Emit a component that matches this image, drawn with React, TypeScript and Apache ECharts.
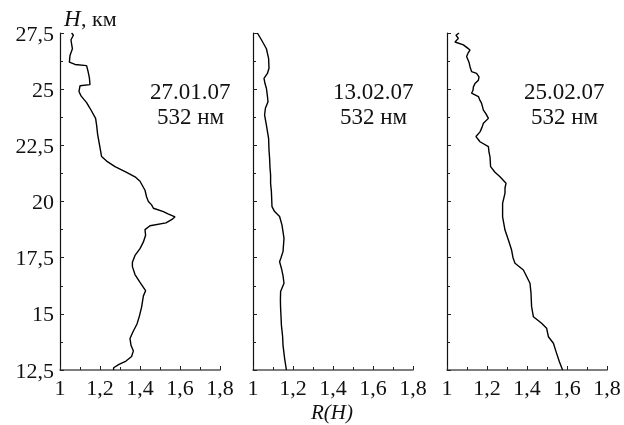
import React, { useEffect, useRef } from "react";
import * as echarts from "echarts";

// Panel 1: 27.01.07
const h1 = [27.5, 27.4, 27.2, 27.0, 26.8, 26.5, 26.2, 26.1, 26.05, 25.8, 25.5, 25.2, 25.15, 24.9, 24.7, 24.4, 24.15, 23.7, 23.4, 23.0, 22.4, 22.0, 21.8, 21.55, 21.3, 21.1, 20.9, 20.5, 20.2, 20.0, 19.85, 19.7, 19.55, 19.45, 19.32, 19.2, 19.05, 18.92, 18.75, 18.5, 18.2, 17.9, 17.6, 17.3, 17.1, 16.75, 16.4, 16.03, 15.8, 15.3, 14.9, 14.55, 14.2, 13.9, 13.6, 13.35, 13.1, 12.9, 12.75, 12.6, 12.5];
const r1 = [1.058, 1.067, 1.055, 1.058, 1.062, 1.05, 1.047, 1.075, 1.133, 1.14, 1.147, 1.15, 1.1, 1.095, 1.105, 1.133, 1.15, 1.178, 1.183, 1.188, 1.2, 1.208, 1.233, 1.275, 1.333, 1.375, 1.4, 1.425, 1.433, 1.442, 1.458, 1.467, 1.517, 1.54, 1.575, 1.56, 1.53, 1.45, 1.425, 1.428, 1.417, 1.4, 1.375, 1.362, 1.362, 1.375, 1.4, 1.428, 1.417, 1.408, 1.397, 1.385, 1.365, 1.35, 1.355, 1.367, 1.358, 1.33, 1.295, 1.268, 1.268];

// Panel 2: 13.02.07
const h2 = [27.5, 27.2, 26.8, 26.37, 25.93, 25.7, 25.48, 25.25, 25.04, 24.7, 24.44, 24.15, 23.85, 23.4, 22.81, 22.3, 21.92, 21.5, 21.18, 20.8, 20.44, 19.77, 19.55, 19.33, 18.95, 18.36, 17.77, 17.5, 17.32, 17.03, 16.7, 16.36, 15.99, 15.6, 15.25, 14.9, 14.5, 14.0, 13.61, 13.02, 12.5];
const r2 = [1.022, 1.042, 1.067, 1.078, 1.08, 1.072, 1.055, 1.06, 1.067, 1.072, 1.075, 1.062, 1.058, 1.067, 1.078, 1.08, 1.083, 1.085, 1.088, 1.088, 1.092, 1.095, 1.108, 1.133, 1.145, 1.155, 1.15, 1.14, 1.133, 1.142, 1.15, 1.155, 1.138, 1.137, 1.138, 1.14, 1.142, 1.148, 1.15, 1.158, 1.167];

// Panel 3: 25.02.07
const h3 = [27.5, 27.4, 27.26, 27.1, 26.97, 26.85, 26.74, 26.6, 26.45, 26.2, 26.0, 25.78, 25.7, 25.55, 25.4, 25.25, 25.1, 24.95, 24.82, 24.67, 24.5, 24.37, 24.07, 23.9, 23.7, 23.48, 23.3, 23.1, 22.89, 22.66, 22.44, 22.2, 21.99, 21.55, 21.3, 21.1, 20.81, 20.6, 20.37, 19.92, 19.32, 18.73, 18.29, 17.84, 17.5, 17.25, 16.95, 16.36, 15.92, 15.32, 14.87, 14.58, 14.36, 13.98, 13.69, 13.24, 12.87, 12.5];
const r3 = [1.06, 1.045, 1.057, 1.04, 1.082, 1.1, 1.115, 1.105, 1.098, 1.11, 1.115, 1.123, 1.148, 1.16, 1.157, 1.14, 1.132, 1.13, 1.123, 1.157, 1.165, 1.173, 1.182, 1.195, 1.207, 1.182, 1.175, 1.165, 1.145, 1.165, 1.207, 1.21, 1.215, 1.218, 1.24, 1.265, 1.295, 1.29, 1.29, 1.278, 1.278, 1.29, 1.307, 1.323, 1.33, 1.34, 1.382, 1.415, 1.42, 1.423, 1.432, 1.473, 1.498, 1.507, 1.532, 1.548, 1.562, 1.578];

const panelLabels = ["27.01.07", "13.02.07", "25.02.07"];
const wavelength = "532 нм";
const xTicks = [1, 1.2, 1.4, 1.6, 1.8];
const yTicks = [12.5, 15, 17.5, 20, 22.5, 25, 27.5];

const FONT = "Liberation Serif";

export default function App() {
  const ref = useRef<HTMLDivElement>(null);
  useEffect(() => {
    if (!ref.current) return;
    const chart = echarts.init(ref.current, null, { renderer: "svg" });
    const lefts = [60, 253, 447];
    const annX = [191, 374, 565];
    const fmt = (v: number) => String(v).replace(".", ",");
    const grids = lefts.map((l) => ({ left: l, top: 33, width: 160, height: 337, outerBoundsMode: "none" }));
    const xAxes = lefts.map((_, i) => ({
      type: "value",
      gridIndex: i,
      min: xTicks[0],
      max: xTicks[xTicks.length - 1],
      interval: 0.2,
      axisLine: { show: true, lineStyle: { color: "#555", width: 1.5 } },
      axisTick: { show: true, inside: true, length: 4, lineStyle: { color: "#222" } },
      minorTick: { show: true, splitNumber: 2, length: 3, lineStyle: { color: "#222" } },
      splitLine: { show: false },
      axisLabel: { show: true, margin: 6, fontFamily: FONT, fontSize: 22, color: "#111", formatter: fmt, showMinLabel: true, showMaxLabel: true },
    }));
    const yAxes = lefts.map((_, i) => ({
      type: "value",
      gridIndex: i,
      min: yTicks[0],
      max: yTicks[yTicks.length - 1],
      interval: 2.5,
      axisLine: { show: true, lineStyle: { color: "#111", width: 1.2 } },
      axisTick: { show: true, inside: true, length: 4, lineStyle: { color: "#222" } },
      minorTick: { show: true, splitNumber: 2, length: 3, lineStyle: { color: "#222" } },
      splitLine: { show: false },
      axisLabel: { show: i === 0, margin: 6, fontFamily: FONT, fontSize: 22, color: "#111", formatter: fmt, showMinLabel: true, showMaxLabel: true },
    }));
    const datasets = [
      [h1, r1],
      [h2, r2],
      [h3, r3],
    ];
    const series = datasets.map(([h, r], i) => ({
      type: "line",
      xAxisIndex: i,
      yAxisIndex: i,
      data: h.map((hv, k) => [r[k], hv]),
      showSymbol: false,
      symbol: "none",
      lineStyle: { color: "#000", width: 1.4 },
      clip: true,
    }));
    const graphic: any[] = [];
    panelLabels.forEach((lab, i) => {
      graphic.push({
        type: "text",
        left: annX[i] - 41,
        top: 80,
        style: { text: lab, font: "23px 'Liberation Serif', serif", fill: "#111" },
      });
      graphic.push({
        type: "text",
        left: annX[i] - 34,
        top: 105,
        style: { text: wavelength, font: "23px 'Liberation Serif', serif", fill: "#111" },
      });
    });
    graphic.push({
      type: "text",
      left: 64,
      top: 7,
      style: { text: "H", font: "italic 23px 'Liberation Serif', serif", fill: "#111" },
    });
    graphic.push({
      type: "text",
      left: 81,
      top: 7,
      style: { text: ", км", font: "22px 'Liberation Serif', serif", fill: "#111" },
    });
    graphic.push({
      type: "text",
      left: 311,
      top: 401,
      style: { text: "R(H)", font: "italic 21px 'Liberation Serif', serif", fill: "#111" },
    });
    chart.setOption({
      animation: false,
      grid: grids,
      xAxis: xAxes,
      yAxis: yAxes,
      series,
      graphic,
    } as any);
    return () => chart.dispose();
  }, []);
  return <div ref={ref} style={{ position: "fixed", left: 0, top: 0, width: 624, height: 425 }} />;
}
